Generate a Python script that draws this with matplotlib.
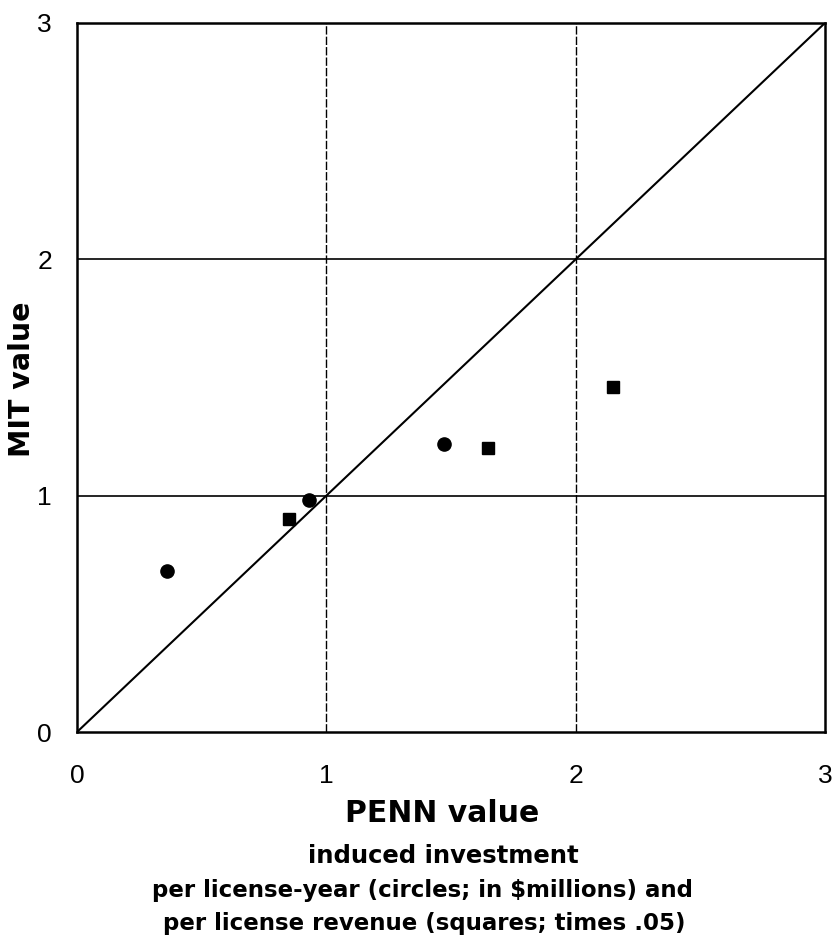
import matplotlib.pyplot as plt

plt.rcParams['font.family'] = ['Liberation Sans', 'DejaVu Sans']

# circles: induced investment per license-year ($millions)
circle_penn = [0.36, 0.93, 1.47]
circle_mit = [0.68, 0.98, 1.22]
# squares: per license revenue (times .05)
square_penn = [0.85, 1.65, 2.15]
square_mit = [0.90, 1.20, 1.46]
ticks = [0, 1, 2, 3]

fig = plt.figure(figsize=(8.36, 9.42), dpi=100)
ax = fig.add_axes([0.0921, 0.2229, 0.8947, 0.7527])

ax.set_xlim(0, 3)
ax.set_ylim(0, 3)
ax.set_xticks(ticks)
ax.set_yticks(ticks)
ax.tick_params(axis='both', length=0, labelsize=19)
ax.tick_params(axis='x', pad=23)
ax.tick_params(axis='y', pad=18)

for t in ticks[1:3]:
    ax.axhline(t, color='black', lw=1.2, zorder=1)
    ax.axvline(t, color='black', lw=1.0, ls=(0, (6, 1.5)), zorder=1)

ax.plot([0, 3], [0, 3], color='black', lw=1.5, zorder=2)

ax.plot(circle_penn, circle_mit, 'o', color='black', ms=9.5, zorder=3)
ax.plot(square_penn, square_mit, 's', color='black', ms=8.5, zorder=3)

for s in ax.spines.values():
    s.set_linewidth(1.8)

bold = dict(family='DejaVu Sans', fontweight='bold')
fig.text(0.026, 0.5977, 'MIT value', rotation=90, fontsize=20.5,
         ha='center', va='center', **bold)
fig.text(0.529, 0.1274, 'PENN value', fontsize=21.5, ha='center',
         va='baseline', **bold)
fig.text(0.530, 0.0839, 'induced investment', fontsize=17.5, ha='center',
         va='baseline', **bold)
fig.text(0.505, 0.0478, 'per license-year (circles; in $millions) and',
         fontsize=16.5, ha='center', va='baseline', **bold)
fig.text(0.508, 0.0127, 'per license revenue (squares; times .05)',
         fontsize=16.5, ha='center', va='baseline', **bold)

fig.savefig('out.png', dpi=100)
